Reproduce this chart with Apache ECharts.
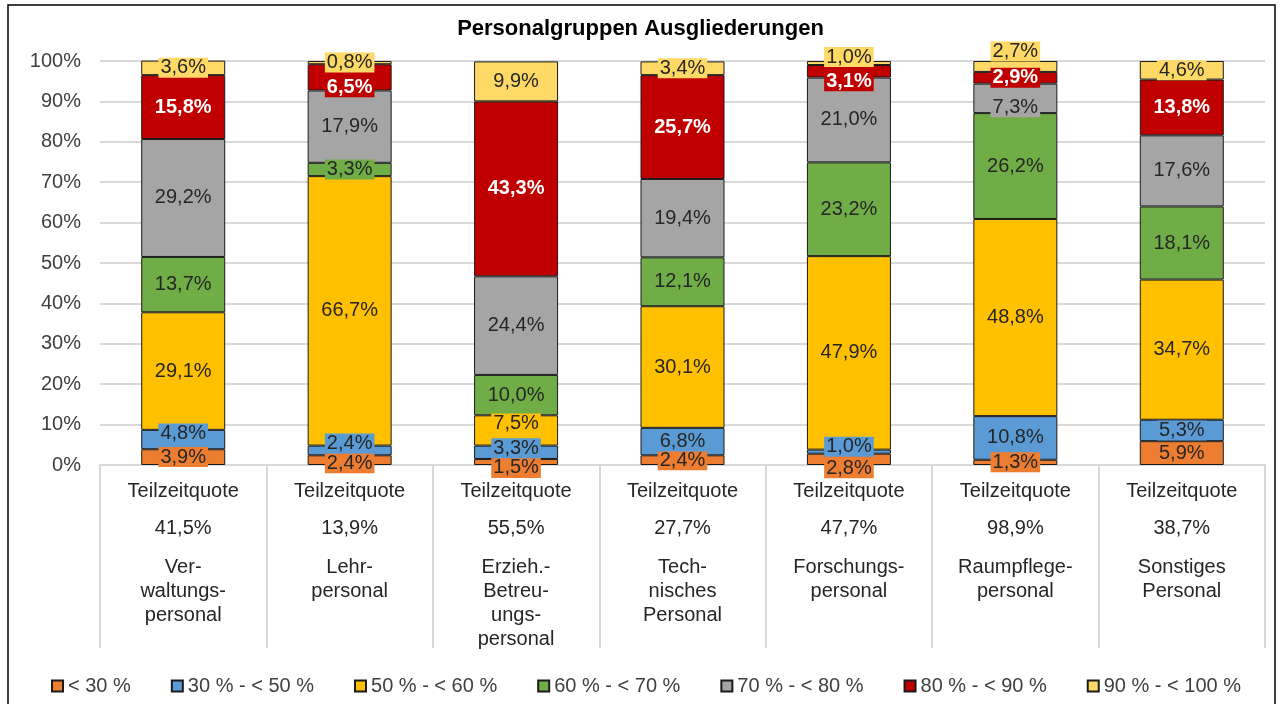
<!DOCTYPE html>
<html>
<head>
<meta charset="utf-8">
<script src="https://cdn.jsdelivr.net/npm/echarts@6/dist/echarts.min.js"></script>
<style>
  html, body { margin: 0; padding: 0; background: #fff; }
  #chart { width: 1281px; height: 704px; }
</style>
</head>
<body>
<div id="chart"></div>
<script>
(() => {
    // categories (x axis) and part-time quota per group
    const groups = ['Ver-\nwaltungs-\npersonal', 'Lehr-\npersonal', 'Erzieh.-\nBetreu-\nungs-\npersonal',
        'Tech-\nnisches\nPersonal', 'Forschungs-\npersonal', 'Raumpflege-\npersonal', 'Sonstiges\nPersonal'];
    const quotes = ['41,5%', '13,9%', '55,5%', '27,7%', '47,7%', '98,9%', '38,7%'];

    // stacked shares, bottom to top
    const bandNames = ['< 30 %', '30 % - < 50 %', '50 % - < 60 %', '60 % - < 70 %', '70 % - < 80 %', '80 % - < 90 %', '90 % - < 100 %'];
    const below30 = [3.9, 2.4, 1.5, 2.4, 2.8, 1.3, 5.9];
    const from30 = [4.8, 2.4, 3.3, 6.8, 1.0, 10.8, 5.3];
    const from50 = [29.1, 66.7, 7.5, 30.1, 47.9, 48.8, 34.7];
    const from60 = [13.7, 3.3, 10.0, 12.1, 23.2, 26.2, 18.1];
    const from70 = [29.2, 17.9, 24.4, 19.4, 21.0, 7.3, 17.6];
    const from80 = [15.8, 6.5, 43.3, 25.7, 3.1, 2.9, 13.8];
    const from90 = [3.6, 0.8, 9.9, 3.4, 1.0, 2.7, 4.6];

    const yTicks = [0, 10, 20, 30, 40, 50, 60, 70, 80, 90, 100];

    const colors = ['#ED7D31', '#5B9BD5', '#FFC000', '#70AD47', '#A5A5A5', '#C00000', '#FFD966'];
    // label shifts like Excel does to avoid overlaps (series index, category index) -> dy
    const labelNudge = {
        '0,1': 3, '1,1': -7, '5,1': 10,
        '0,2': 6, '1,2': -4, '2,2': -7,
        '1,0': -6,
        '0,4': 9, '1,4': -5, '5,4': 10, '6,4': -6,
        '4,5': 9, '6,5': -15
    };

    const fmt = v => v.toFixed(1).replace('.', ',') + '%';
    const font = '"Liberation Sans", Arial, sans-serif';

    const bands = [below30, from30, from50, from60, from70, from80, from90];
    const series = bands.map((vals, s) => ({
        name: bandNames[s],
        type: 'bar',
        stack: 'total',
        barWidth: 84,
        itemStyle: { color: colors[s], borderColor: '#1a1a1a', borderWidth: 1 },
        data: vals.map((v, c) => {
            const dy = labelNudge[s + ',' + c] || 0;
            return { value: v, label: { offset: [0, dy] } };
        }),
        label: {
            show: true,
            position: 'inside',
            formatter: p => fmt(p.value),
            fontFamily: font,
            fontSize: 20,
            fontWeight: s === 5 ? 'bold' : 'normal',
            color: s === 5 ? '#ffffff' : '#262626',
            backgroundColor: colors[s],
            padding: [0, 2],
            lineHeight: 20
        }
    }));

    const chart = echarts.init(document.getElementById('chart'));
    chart.setOption({
        animation: false,
        title: {
            text: 'Personalgruppen Ausgliederungen',
            left: 'center',
            top: 13,
            textStyle: { fontFamily: font, fontSize: 22, fontWeight: 'bold', color: '#000' }
        },
        graphic: [{
            type: 'rect',
            shape: { x: 8, y: 5, width: 1267, height: 720 },
            style: { fill: null, stroke: '#000', lineWidth: 1.5 },
            silent: true
        }],
        grid: { left: 100, right: 16, top: 61, bottom: 239 },
        legend: {
            bottom: 3,
            left: 46,
            itemWidth: 11,
            itemHeight: 11,
            itemGap: 40,
            icon: 'rect',
            textStyle: { fontFamily: font, fontSize: 20, color: '#404040' },
            data: bandNames
        },
        xAxis: {
            type: 'category',
            data: groups,
            axisLine: { show: true, lineStyle: { color: '#d9d9d9', width: 2 } },
            axisTick: { show: true, length: 183, lineStyle: { color: '#d9d9d9', width: 2 } },
            axisLabel: {
                margin: 16,
                interval: 0,
                fontFamily: font,
                formatter: (v, i) => '{a|Teilzeitquote}\n{b|' + quotes[i] + '}\n' +
                    v.split('\n').map(t => '{c|' + t + '}').join('\n'),
                rich: {
                    a: { fontFamily: font, fontSize: 20, lineHeight: 20, color: '#262626' },
                    b: { fontFamily: font, fontSize: 20, lineHeight: 54, color: '#262626' },
                    c: { fontFamily: font, fontSize: 20, lineHeight: 24, color: '#262626' }
                }
            }
        },
        yAxis: {
            type: 'value',
            min: yTicks[0],
            max: yTicks[yTicks.length - 1],
            interval: yTicks[1] - yTicks[0],
            axisLine: { show: false },
            axisTick: { show: false },
            splitLine: { lineStyle: { color: '#d9d9d9', width: 2 } },
            axisLabel: {
                margin: 19,
                formatter: '{value}%',
                fontFamily: font,
                fontSize: 20,
                color: '#404040'
            }
        },
        series: series
    });
})();
</script>
</body>
</html>
